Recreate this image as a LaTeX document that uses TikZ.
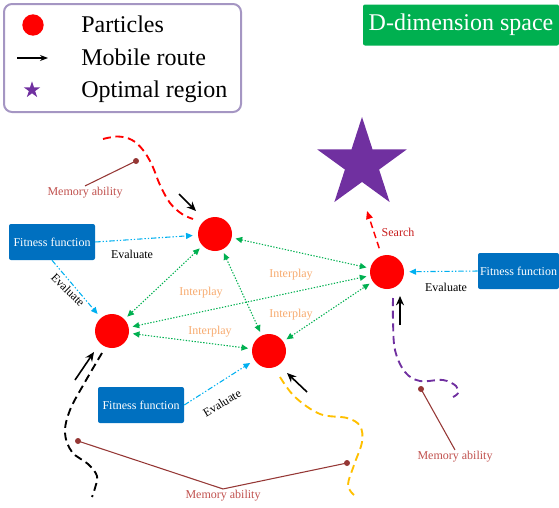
\documentclass[tikz,border=0pt]{standalone}
\usepackage{fontspec}
\setmainfont{Liberation Serif}
\usetikzlibrary{arrows.meta,shapes.geometric}
\definecolor{pred}{RGB}{255,0,0}
\definecolor{ppurple}{RGB}{112,48,160}
\definecolor{fblue}{RGB}{0,112,192}
\definecolor{lblue}{RGB}{0,176,240}
\definecolor{ggreen}{RGB}{0,176,80}
\definecolor{iorange}{RGB}{247,170,110}
\definecolor{mtext}{RGB}{192,80,77}
\definecolor{mline}{RGB}{149,55,53}
\definecolor{yel}{RGB}{255,192,0}
\definecolor{lgborder}{RGB}{165,150,195}
\definecolor{sred}{RGB}{200,30,30}
\begin{document}
\begin{tikzpicture}[x=0.75pt,y=-0.75pt,
  particle/.style={circle,fill=pred,minimum size=25.5pt,inner sep=0pt,outer sep=3pt},
  fitbox/.style={rectangle,rounded corners=1.5pt,fill=fblue,text=white,font=\fontsize{9}{10}\selectfont,minimum width=64.5pt,minimum height=27pt,inner sep=1pt},
  inter/.style={draw=ggreen,line width=0.8pt,dash pattern=on 1pt off 1.2pt,{Triangle[length=5pt,width=4.5pt]}-{Triangle[length=5pt,width=4.5pt]}},
  evalarr/.style={draw=lblue,line width=0.8pt,dash pattern=on 4pt off 1.5pt on 1pt off 1.5pt on 1pt off 1.5pt,-{Triangle[length=5pt,width=4.5pt]},shorten >=1pt},
  small/.style={font=\fontsize{9}{10}\selectfont,inner sep=1pt},
  ilabel/.style={small,text=iorange},
  elabel/.style={small,text=black},
  mlabel/.style={small,text=mtext},
  mlinestyle/.style={draw=mline,line width=0.8pt},
  mdot/.style={circle,fill=mline,minimum size=4.5pt,inner sep=0pt},
  route/.style={draw=black,line width=1.2pt,-{Stealth[length=7pt,width=6pt]}},
  traj/.style={line width=1.4pt,dash pattern=on 6pt off 3.5pt},
  legtext/.style={font=\fontsize{18}{20}\selectfont,anchor=base west,inner sep=0pt}
]
\useasboundingbox (0,0) rectangle (559,507);

% legend
\node[draw=lgborder,line width=1.5pt,rounded corners=6pt,minimum width=177.75pt,minimum height=81pt,inner sep=0pt] (legend) at (122.5,58) {};
\node[circle,fill=pred,minimum size=16pt,inner sep=0pt] (lgcirc) at (33,25) {};
\coordinate (lga) at (17,58);
\coordinate (lgb) at (48,58);
\draw[line width=0.9pt,-{Stealth[length=6pt,width=4.5pt]}] (lga) -- (lgb);
\node[star,star points=5,star point ratio=2.618,fill=ppurple,minimum size=13pt,inner sep=0pt] (lgstar) at (32,90) {};
\node[legtext] (t1) at (81,32) {Particles};
\node[legtext] (t2) at (81,65) {Mobile route};
\node[legtext] (t3) at (81,97) {Optimal region};

% D-dimension space
\node[fill=ggreen,text=white,rounded corners=1.5pt,minimum width=147pt,minimum height=30.75pt,inner sep=0pt,font=\fontsize{18}{20}\selectfont] (dspace) at (461,25) {D-dimension space};

% star
\node[star,star points=5,star point ratio=2.618,fill=ppurple,minimum size=70.5pt,inner sep=0pt] (optstar) at (362,164) {};

% particles
\node[particle] (P1) at (215,234) {};
\node[particle] (P2) at (112,331) {};
\node[particle] (P3) at (269,351) {};
\node[particle] (P4) at (387,272) {};

% fitness boxes
\node[fitbox] (F1) at (52,242) {Fitness function};
\node[fitbox] (F2) at (141,405) {Fitness function};
\node[fitbox,minimum width=60.75pt] (F3) at (518.5,271) {Fitness function};

% evaluate arrows
\draw[evalarr] (F1.east) -- (P1);
\draw[evalarr] (F1.south) -- (P2);
\draw[evalarr] (F2.east) -- (P3);
\draw[evalarr] (F3.west) -- (P4);
\node[elabel] (e1) at (132,254) {Evaluate};
\node[elabel,rotate=-45] (e2) at (68,290) {Evaluate};
\node[elabel,rotate=31] (e3) at (222,403) {Evaluate};
\node[elabel] (e4) at (446,287) {Evaluate};

% interplay arrows
\draw[inter] (P1) -- (P4);
\draw[inter] (P1) -- (P2);
\draw[inter] (P1) -- (P3);
\draw[inter] (P2) -- (P4);
\draw[inter] (P2) -- (P3);
\draw[inter] (P3) -- (P4);
\node[ilabel] (i1) at (291,275) {Interplay};
\node[ilabel] (i2) at (201,293) {Interplay};
\node[ilabel] (i3) at (291,315) {Interplay};
\node[ilabel] (i4) at (210,332) {Interplay};

% search
\coordinate (searchend) at (367,211);
\draw[draw=pred,line width=1.1pt,dash pattern=on 5pt off 3pt,-{Triangle[length=6pt,width=5pt]},shorten <=3pt] (P4) -- (searchend);
\node[small,text=sred] (search) at (398,232) {Search};

% trajectories
\draw[traj,draw=pred] plot[smooth,tension=0.6] coordinates {(103,139) (118,136.5) (132,140) (143,150) (152,165) (160,185) (170,203) (182,214) (193,219)};
\draw[traj,draw=black] plot[smooth,tension=0.6] coordinates {(102,353) (85,382) (70,410) (65,433) (72,452) (88,464) (97,476) (95,488) (92,497)};
\draw[traj,draw=yel] plot[smooth,tension=0.6] coordinates {(280,377) (295,397) (320,414) (347,418) (360,426) (362,442) (354,465) (348,485) (354,495)};
\draw[traj,draw=ppurple] plot[smooth,tension=0.6] coordinates {(393,298) (393,320) (395,350) (405,372) (420,381) (443,380) (456,386) (458,393) (453,397)};

% route arrows
\coordinate (r1a) at (179,194); \coordinate (r1b) at (196,211);
\coordinate (r2a) at (75,380);  \coordinate (r2b) at (94,352);
\coordinate (r3a) at (307,392); \coordinate (r3b) at (287,373);
\coordinate (r4a) at (400,325); \coordinate (r4b) at (400,296);
\draw[route] (r1a) -- (r1b);
\draw[route] (r2a) -- (r2b);
\draw[route] (r3a) -- (r3b);
\draw[route] (r4a) -- (r4b);

% memory ability
\node[mlabel] (M1) at (85,193) {Memory ability};
\node[mlabel] (M2) at (223,496) {Memory ability};
\node[mlabel] (M3) at (455,457) {Memory ability};
\node[mdot] (d1) at (136,161) {};
\node[mdot] (d2) at (78,441) {};
\node[mdot] (d3) at (347,463) {};
\node[mdot] (d4) at (421,389) {};
\draw[mlinestyle] (M1.north) -- (d1.center);
\draw[mlinestyle] (d2.center) -- (M2.north) -- (d3.center);
\draw[mlinestyle] (M3.north) -- (d4.center);
\end{tikzpicture}
\end{document}
